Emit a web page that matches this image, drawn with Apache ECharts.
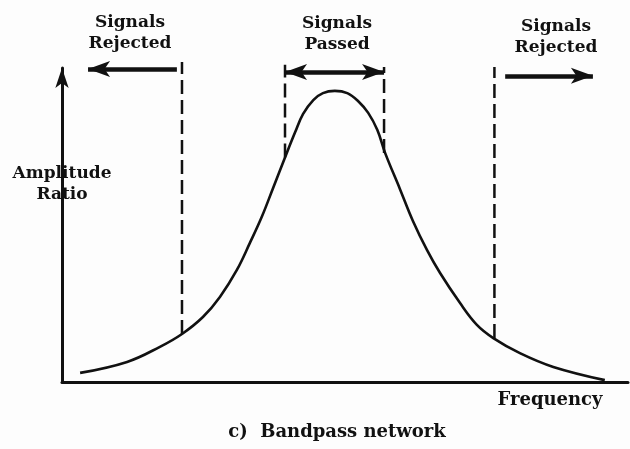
<!DOCTYPE html>
<html>
<head>
<meta charset="utf-8">
<script src="https://cdn.jsdelivr.net/npm/echarts@6/dist/echarts.min.js"></script>
<style>
  html, body { margin: 0; padding: 0; background: #fdfdfd; }
  #chart { width: 630px; height: 449px; }
</style>
</head>
<body>
<div id="chart"></div>
<script>
// response curve (frequency / amplitude in arbitrary units 0-100)
var freq = [3.2, 11.5, 17.3, 21.2, 24.9, 27.9, 30.9, 33.2, 35.3, 37.3, 39.4, 41.2, 42.6, 44.4, 46.1, 48.2, 50.4, 52.3, 54.1, 55.7, 57.1, 59.7, 62.0, 64.5, 66.8, 70.3, 73.3, 76.2, 80.9, 86.8, 95.9];
var amplitude = [2.9, 6.4, 11.2, 15.3, 20.7, 27.1, 35.7, 44.3, 52.6, 61.8, 71.5, 79.6, 85.4, 89.8, 92.0, 92.7, 92.0, 89.5, 85.7, 80.3, 72.9, 61.5, 51.3, 42.0, 34.7, 25.2, 18.2, 14.0, 9.2, 4.8, 0.6];

// dashed cut-off markers
var cutoffFreq = [21.2, 39.4, 56.9, 76.4];
var cutoffLow = [15.3, 71.5, 72.9, 14.0];
var cutoffTop = [101.9, 101.0, 100.3, 100.3];

// region arrows: from x, to x, height, arrowhead at both ends
var arrowFrom = [20.3, 39.4, 78.3];
var arrowTo = [4.6, 56.9, 93.8];
var arrowY = [99.7, 98.7, 97.5];
var arrowBoth = [false, true, false];

var ink = '#111';
var font = 'DejaVu Serif';

var chart = echarts.init(document.getElementById('chart'));

var curve = freq.map(function (f, i) { return [f, amplitude[i]]; });

var cutoffSeries = cutoffFreq.map(function (f, i) {
    return {
        type: 'line',
        data: [[f, cutoffLow[i]], [f, cutoffTop[i]]],
        showSymbol: false,
        clip: false,
        silent: true,
        lineStyle: { color: ink, width: 2.5, type: [14, 6] }
    };
});

var arrowLines = arrowFrom.map(function (a, i) {
    return [
        { coord: [a, arrowY[i]], symbol: arrowBoth[i] ? 'arrow' : 'none' },
        { coord: [arrowTo[i], arrowY[i]], symbol: 'arrow' }
    ];
});

function label(x, y, text, size) {
    return {
        type: 'text', x: x, y: y, silent: true,
        style: {
            text: text, fill: ink, font: 'bold ' + size + 'px ' + font,
            align: 'center', verticalAlign: 'middle', lineHeight: 21
        }
    };
}

var option = {
    backgroundColor: '#fdfdfd',
    animation: false,
    grid: { left: 62, right: 2, top: 68, bottom: 67 },
    xAxis: {
        type: 'value', min: 0, max: 100,
        axisLine: { lineStyle: { color: ink, width: 3 } },
        axisTick: { show: false }, axisLabel: { show: false }, splitLine: { show: false }
    },
    yAxis: {
        type: 'value', min: 0, max: 100,
        axisLine: {
            show: true, symbol: ['none', 'arrow'], symbolSize: [10, 20],
            lineStyle: { color: ink, width: 3 }
        },
        axisTick: { show: false }, axisLabel: { show: false }, splitLine: { show: false }
    },
    graphic: [
        label(130, 33, 'Signals\nRejected', 17),
        label(337, 34, 'Signals\nPassed', 17),
        label(556, 37, 'Signals\nRejected', 17),
        label(62, 184, 'Amplitude\nRatio', 17),
        label(550, 400, 'Frequency', 18),
        label(337, 432, 'c)  Bandpass network', 18)
    ],
    series: [
        {
            name: 'Amplitude Ratio',
            type: 'line',
            data: curve,
            smooth: 0.4,
            showSymbol: false,
            clip: false,
            lineStyle: { color: ink, width: 2.6 },
            markLine: {
                silent: true,
                symbolSize: [12, 22],
                label: { show: false },
                lineStyle: { color: ink, width: 4.5, type: 'solid' },
                data: arrowLines
            }
        }
    ].concat(cutoffSeries)
};

chart.setOption(option);
</script>
</body>
</html>
